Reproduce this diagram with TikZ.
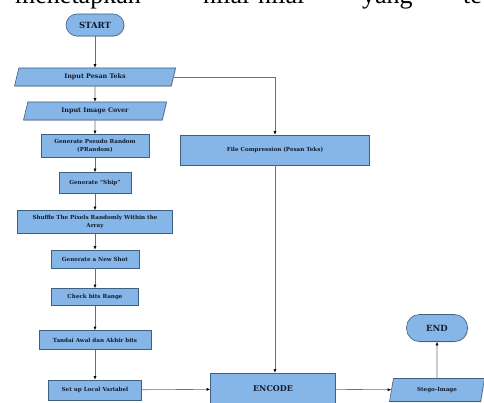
\documentclass[tikz,border=0pt]{standalone}
\usepackage{fontspec}
\setmainfont{Liberation Serif}
\newfontfamily\boxfont{DejaVu Serif}
\usetikzlibrary{arrows.meta,shapes.geometric,shadows}
\definecolor{boxblue}{HTML}{86B6E8}
\definecolor{boxedge}{HTML}{40607F}
\definecolor{boxtext}{HTML}{111C2E}
\definecolor{lineg}{HTML}{6E6E6E}
\tikzset{
  procbox/.style={rectangle, draw=boxedge, fill=boxblue, line width=0.6pt, inner sep=1pt, align=center, text=boxtext,
    drop shadow={opacity=0.3, shadow xshift=0.8pt, shadow yshift=-0.8pt}},
  iobox/.style={procbox, trapezium, trapezium left angle=62, trapezium right angle=118, trapezium stretches body},
  termbox/.style={procbox, rounded corners=11pt, font=\boxfont\fontsize{8.5}{10}\selectfont\bfseries},
  flow/.style={draw=lineg, line width=0.6pt, -{Latex[length=3.5pt,width=3pt,color=black]}},
  toptext/.style={font=\normalfont\fontsize{26}{30}\selectfont, inner sep=0pt, anchor=base west}
}

\begin{document}
\begin{tikzpicture}[x=1pt, y=-1pt, every node/.style={font=\boxfont\fontsize{5.6}{8.4}\selectfont\bfseries}]
\useasboundingbox (0,0) rectangle (484,403);
\clip (0,0) rectangle (484,403);
% text line above the chart
\node[toptext] (word1) at (15,4) {menetapkan};
\node[toptext] (word2) at (203,4) {nilai-nilai};
\node[toptext] (word3) at (362,4) {yang};
\node[toptext] (word4) at (463,4) {te};
% left column
\node[termbox, minimum width=58pt, minimum height=22pt] (start) at (95,25) {START};
\node[iobox, minimum width=161pt, minimum height=18pt, font=\boxfont\fontsize{6.4}{7.4}\selectfont\bfseries] (input1) at (95,77) {Input Pesan Teks};
\node[iobox, minimum width=143pt, minimum height=18pt, font=\boxfont\fontsize{6.4}{7.4}\selectfont\bfseries] (input2) at (95,111) {Input Image Cover};
\node[procbox, minimum width=108pt, minimum height=23pt] (gen1) at (95,146) {Generate Pseudo Random\\(PRandom)};
\node[procbox, minimum width=72pt, minimum height=21pt] (gen2) at (95,183) {Generate “Ship”};
\node[procbox, minimum width=155pt, minimum height=23pt] (shuffle) at (95,222) {Shuffle The Pixels Randomly Within the\\Array};
\node[procbox, minimum width=88pt, minimum height=18pt] (gen3) at (95,259) {Generate a New Shot};
\node[procbox, minimum width=87pt, minimum height=17pt] (check) at (95,297) {Check bits Range};
\node[procbox, minimum width=112pt, minimum height=19pt] (mark) at (95,340) {Tandai Awal dan Akhir bits};
\node[procbox, minimum width=93pt, minimum height=20pt] (setup) at (95,390) {Set up Local Variabel};
% right part
\node[procbox, minimum width=189pt, minimum height=30pt] (compress) at (275,150) {File Compression (Pesan Teks)};
\node[procbox, minimum width=125pt, minimum height=32pt, font=\boxfont\fontsize{8}{9}\selectfont\bfseries] (encode) at (273,389) {ENCODE};
\node[iobox, minimum width=95pt, minimum height=23pt] (stego) at (437,390) {Stego-Image};
\node[termbox, minimum width=61pt, minimum height=27pt, rounded corners=13pt] (finish) at (437,328) {END};
% connectors
\draw[flow] (start) -- (input1);
\draw[flow] (input1) -- (input2);
\draw[flow] (input2) -- (gen1);
\draw[flow] (gen1) -- (gen2);
\draw[flow] (gen2) -- (shuffle);
\draw[flow] (shuffle) -- (gen3);
\draw[flow] (gen3) -- (check);
\draw[flow] (check) -- (mark);
\draw[flow] (mark) -- (setup);
\draw[flow] (input1.east) -| (compress.north);
\draw[flow] (compress.south) -- (compress.south |- encode.north);
\draw[flow] (setup) -- (encode);
\draw[flow] (encode) -- (stego);
\draw[flow] (stego) -- (finish);
\end{tikzpicture}
\end{document}
